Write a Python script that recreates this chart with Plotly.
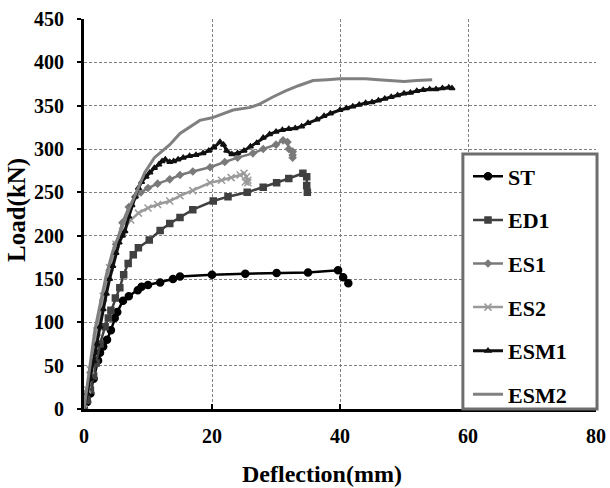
import plotly.graph_objects as go

# ---- data ----
ST_x = [0, 0.5, 1, 1.5, 2.2, 2.5, 3, 3.6, 4.2, 4.8, 5.2, 6.1, 7, 8.4, 9, 10, 11.9, 13.9, 15, 20, 25.2, 30.1, 35, 39.7, 40.5, 41.3]
ST_y = [0, 8, 18, 35, 56, 65, 72, 80, 91, 105, 112, 125, 130, 137, 141, 143, 146, 150, 153, 155, 156, 157, 157.5, 160, 152, 145]

ED1_x = [0, 0.5, 1, 1.5, 1.9, 2.5, 3.3, 3.8, 4.2, 4.9, 5.6, 6.2, 6.9, 7.7, 8.5, 10.2, 11.9, 13.4, 15, 17, 20.2, 22.5, 25.5, 28, 30.1, 32, 34.2, 34.8, 34.8, 34.9]
ED1_y = [0, 10, 22, 38, 53, 75, 95, 105, 114, 128, 140, 155, 168, 178, 186, 195, 206, 214, 221, 230, 240, 245, 250, 256, 261, 266, 272, 268, 258, 250]

ES1_x = [0, 0.5, 1, 2, 3, 4, 5, 6, 7, 8, 8.9, 10, 11.5, 13.4, 15, 17, 19.7, 22, 24, 26.4, 28, 30, 31.1, 31.8, 32, 32.6, 32.6, 32.6]
ES1_y = [0, 20, 42, 85, 125, 160, 190, 215, 233, 245, 250, 255, 260, 265, 270, 274, 279, 285, 290, 295, 300, 305, 310, 308, 300, 297, 293, 290]

ES2_x = [0, 0.5, 1, 2, 3, 4, 5, 6, 7.3, 8.5, 10, 11.5, 13.4, 15, 17, 19.7, 21.5, 23, 24.4, 25, 25.4, 25.6, 25.2, 25.6]
ES2_y = [0, 22, 45, 90, 130, 163, 190, 205, 218, 226, 232, 236, 240, 246, 252, 261, 264, 267, 270, 272, 268, 264, 262, 261]

ESM1_x = [0, 0.5, 1, 1.5, 2, 2.5, 3, 3.5, 4, 4.5, 5, 5.5, 6, 6.4, 7, 7.5, 8, 8.5, 9, 9.7, 10.3, 11, 11.7, 12.2, 12.7,
          13.4, 14, 14.7, 15.5, 16.5, 17.5, 18.6, 19.5, 20.3, 21.25, 21.8, 22.3, 23.1, 24, 25, 26, 27, 28, 29, 30, 31,
          32, 33, 34, 35, 36.4, 37.5, 38.5, 40, 41, 42, 43, 44, 45, 46, 47, 48, 49, 50, 51, 52, 53, 54, 55, 56, 57, 57.5]
ESM1_y = [0, 18, 35, 55, 75, 95, 115, 133, 150, 165, 180, 192, 200, 205, 222, 235, 245, 255, 262, 268, 273, 278, 282, 286, 288,
          285, 286, 288, 290, 292, 293, 295, 298, 302, 308, 305, 298, 294, 295, 298, 303, 307, 313, 317, 320, 322,
          323, 324, 326, 330, 334, 338, 341, 345, 347, 349, 351, 353, 354, 356, 358, 360, 362, 364, 365, 367, 368, 369, 369, 370, 371, 370]

ESM2_x = [0, 1, 1.7, 2.5, 3.5, 4.5, 5.8, 7, 8.3, 9.5, 11, 12.5, 13.4, 15, 16.5, 18.1, 20, 21.5, 23.3, 26, 27.5, 29.5,
          31.5, 33.5, 35.8, 38, 40, 42, 44, 46, 48, 50, 52, 54.4]
ESM2_y = [0, 55, 91, 120, 155, 182, 207, 230, 252, 273, 290, 300, 305, 318, 325, 333, 336, 340, 345, 348, 352, 360,
          367, 373, 379, 380, 381, 381, 381, 380, 379, 378, 379, 380]

x_ticks = [0, 20, 40, 60, 80]
y_ticks = [0, 50, 100, 150, 200, 250, 300, 350, 400, 450]
x_title = "Deflection(mm)"
y_title = "Load(kN)"

FONT = "Liberation Serif"

fig = go.Figure()

series = [
    ("ST", ST_x, ST_y, "#000000", "circle", 7, 2.5),
    ("ED1", ED1_x, ED1_y, "#404040", "square", 6, 2.5),
    ("ES1", ES1_x, ES1_y, "#7a7a7a", "diamond", 5, 2.5),
    ("ES2", ES2_x, ES2_y, "#9a9a9a", "x-thin", 7, 2.5),
    ("ESM1", ESM1_x, ESM1_y, "#111111", "triangle-up", 5, 3),
    ("ESM2", ESM2_x, ESM2_y, "#808080", None, 0, 3),
]

for name, xs, ys, col, sym, size, lw in series:
    if sym is None:
        fig.add_trace(go.Scatter(x=xs, y=ys, name=name, mode="lines", legendgroup=name,
                                 line=dict(color=col, width=lw)))
    else:
        fig.add_trace(go.Scatter(x=xs, y=ys, name=name, mode="lines+markers", legendgroup=name,
                                 line=dict(color=col, width=lw),
                                 marker=dict(symbol=sym, size=size, color=col,
                                             line=dict(color=col, width=1.5))))

# legend box
fig.add_shape(type="rect", xref="paper", yref="paper", x0=0.740, x1=1.002, y0=0.0, y1=0.654,
              line=dict(color="#6e6e6e", width=3), fillcolor="white", layer="above")

# axis titles as annotations
fig.add_annotation(text=x_title, xref="paper", yref="paper", x=0.465, y=-0.166,
                   xanchor="center", yanchor="middle", showarrow=False,
                   font=dict(family=FONT, size=24, weight="bold", color="black"))
fig.add_annotation(text=y_title, xref="paper", yref="paper", x=-0.131, y=0.51,
                   xanchor="center", yanchor="middle", showarrow=False, textangle=-90,
                   font=dict(family=FONT, size=25, weight="bold", color="black"))

fig.update_layout(
    width=610, height=488,
    margin=dict(l=84, r=14, t=19, b=79),
    paper_bgcolor="white", plot_bgcolor="white",
    font=dict(family=FONT, size=20, color="black"),
    showlegend=True,
    legend=dict(x=0.75, y=0.65, xanchor="left", yanchor="top",
                bgcolor="rgba(0,0,0,0)", borderwidth=0,
                font=dict(family=FONT, size=22, color="black", weight="bold"),
                tracegroupgap=12, itemwidth=30),
    xaxis=dict(range=[0, 80], tickvals=x_ticks, ticktext=[str(v) for v in x_ticks],
               automargin=False,
               showgrid=True, gridcolor="#808080", griddash="3px,2px", gridwidth=1,
               zeroline=False, showline=True, linecolor="black", linewidth=3,
               ticks="inside", ticklen=5, tickwidth=2, tickcolor="black",
               ticklabelstandoff=7,
               tickfont=dict(family=FONT, size=20, weight="bold")),
    yaxis=dict(range=[0, 450], tickvals=y_ticks, ticktext=[str(v) for v in y_ticks],
               automargin=False,
               showgrid=True, gridcolor="#808080", griddash="3px,2px", gridwidth=1,
               zeroline=False, showline=True, linecolor="black", linewidth=3,
               ticks="outside", ticklen=4, tickwidth=2, tickcolor="black",
               ticklabelstandoff=9,
               tickfont=dict(family=FONT, size=20, weight="bold")),
)

fig.write_html("out.html", config={"displayModeBar": False},
               post_script="document.body.style.margin='0px';document.body.style.overflow='hidden';")
